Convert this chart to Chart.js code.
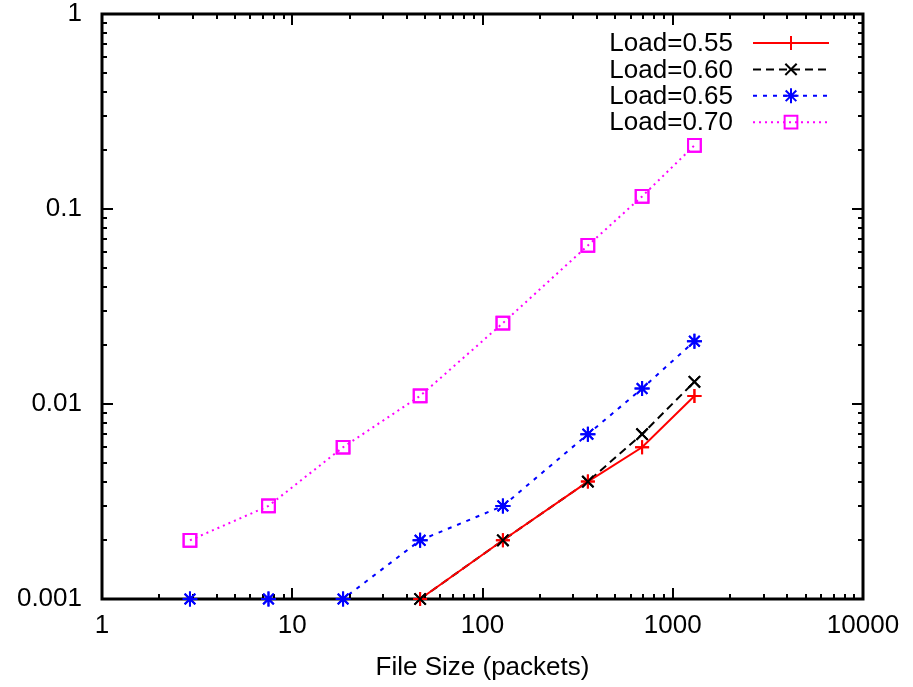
<!DOCTYPE html>
<html>
<head>
<meta charset="utf-8">
<script src="https://cdn.jsdelivr.net/npm/chart.js@4.4.1/dist/chart.umd.min.js"></script>
<style>
  html, body { margin: 0; padding: 0; background: #fff; }
  #wrap { width: 913px; height: 687px; }
</style>
</head>
<body>
<div id="wrap"><canvas id="lossChart" width="913" height="687"></canvas></div>
<script>
// values (log-log)
const fileSizes = [2.9, 7.5, 18.5, 47, 128, 358, 690, 1300];
const fileSizesHigh = [47, 128, 358, 690, 1300];

const load055 = [0.001, 0.002, 0.004, 0.006, 0.011];
const load060 = [0.001, 0.002, 0.004, 0.007, 0.013];
const load065 = [0.001, 0.001, 0.001, 0.002, 0.003, 0.007, 0.012, 0.021];
const load070 = [0.002, 0.003, 0.006, 0.011, 0.026, 0.065, 0.116, 0.212];

const seriesLabels = ['Load=0.55', 'Load=0.60', 'Load=0.65', 'Load=0.70'];
const xTickLabels = [1, 10, 100, 1000, 10000];
const yTickLabels = [0.001, 0.01, 0.1, 1];

const FONT = 'Liberation Sans, Arial, Helvetica, sans-serif';
const FONT_SIZE = 26;

function toPoints(xs, ys) {
    return ys.map((y, i) => ({ x: xs[i], y: y }));
}

// 1..9 per decade, used for the inward minor ticks
function decadeTicks(min, max) {
    const out = [];
    for (let e = Math.round(Math.log10(min)); e < Math.round(Math.log10(max)); e++) {
        for (let m = 1; m < 10; m++) out.push({ value: m * Math.pow(10, e) });
    }
    out.push({ value: max });
    return out;
}

function isPow10(v) {
    const l = Math.log10(v);
    return Math.abs(l - Math.round(l)) < 1e-9;
}

// keep the plot box where the layout padding puts it
function noScalePadding(s) {
    s.paddingTop = 0; s.paddingBottom = 0;
    s.paddingLeft = 0; s.paddingRight = 0;
}

// gnuplot style frame with ticks pointing inward on all four sides,
// drawn over the lines, then the markers go on top again
const framePlugin = {
    id: 'frame',
    afterDatasetsDraw(chart) {
        const { ctx, chartArea: a, scales } = chart;
        ctx.save();
        ctx.strokeStyle = '#000';
        ctx.lineWidth = 2;
        ctx.beginPath();
        scales.x.ticks.forEach(t => {
            const px = Math.round(scales.x.getPixelForValue(t.value));
            const len = isPow10(t.value) ? 11 : 5;
            ctx.moveTo(px, a.bottom); ctx.lineTo(px, a.bottom - len);
            ctx.moveTo(px, a.top); ctx.lineTo(px, a.top + len);
        });
        scales.y.ticks.forEach(t => {
            const py = Math.round(scales.y.getPixelForValue(t.value));
            const len = isPow10(t.value) ? 11 : 5;
            ctx.moveTo(a.left, py); ctx.lineTo(a.left + len, py);
            ctx.moveTo(a.right, py); ctx.lineTo(a.right - len, py);
        });
        ctx.stroke();
        ctx.lineWidth = 3;
        ctx.strokeRect(a.left, a.top, a.right - a.left, a.bottom - a.top);
        ctx.restore();

        chart.data.datasets.forEach((ds, i) => {
            chart.getDatasetMeta(i).data.forEach(p => p.draw(ctx, a));
        });
    }
};

// key in the top right corner: label, then line sample with marker
const keyPlugin = {
    id: 'key',
    afterDraw(chart) {
        const { ctx } = chart;
        const textRight = 733, x0 = 753, x1 = 829, top = 43, step = 26.4;
        ctx.save();
        ctx.font = FONT_SIZE + 'px ' + FONT;
        ctx.textAlign = 'right';
        ctx.textBaseline = 'middle';
        chart.data.datasets.forEach((ds, i) => {
            const y = top + i * step;
            ctx.fillStyle = '#000';
            ctx.fillText(ds.label, textRight, y + 1);
            ctx.strokeStyle = ds.borderColor;
            ctx.lineWidth = ds.borderWidth;
            ctx.setLineDash(ds.borderDash || []);
            ctx.beginPath();
            ctx.moveTo(x0, y); ctx.lineTo(x1, y);
            ctx.stroke();
            ctx.setLineDash([]);
            ctx.lineWidth = ds.pointBorderWidth;
            ctx.fillStyle = 'rgba(0,0,0,0)';
            Chart.helpers.drawPoint(ctx, {
                pointStyle: ds.pointStyle,
                radius: ds.pointRadius,
                rotation: 0,
                borderWidth: ds.pointBorderWidth
            }, (x0 + x1) / 2, y);
        });
        ctx.restore();
    }
};

function makeSet(label, data, color, dash, style, radius) {
    return {
        label: label,
        data: data,
        showLine: true,
        borderColor: color,
        backgroundColor: 'rgba(0,0,0,0)',
        borderWidth: 2,
        borderDash: dash,
        pointStyle: style,
        pointRadius: radius,
        pointBorderWidth: 2,
        pointBorderColor: color,
        pointBackgroundColor: 'rgba(0,0,0,0)',
        clip: false,
        tension: 0
    };
}

const ctx = document.getElementById('lossChart').getContext('2d');
new Chart(ctx, {
    type: 'scatter',
    data: {
        datasets: [
            makeSet(seriesLabels[0], toPoints(fileSizesHigh, load055), '#ff0000', [], 'cross', 7),
            makeSet(seriesLabels[1], toPoints(fileSizesHigh, load060), '#000000', [8, 5], 'crossRot', 8),
            makeSet(seriesLabels[2], toPoints(fileSizes, load065), '#0000ff', [4, 6], 'star', 7.5),
            makeSet(seriesLabels[3], toPoints(fileSizes, load070), '#ff00ff', [2, 4], 'rect', 9)
        ]
    },
    options: {
        responsive: false,
        animation: false,
        events: [],
        layout: { padding: { left: 0, top: 14, right: 50, bottom: 0 } },
        plugins: {
            legend: { display: false },
            tooltip: { enabled: false }
        },
        scales: {
            x: {
                type: 'logarithmic',
                min: xTickLabels[0],
                max: xTickLabels[xTickLabels.length - 1],
                afterBuildTicks: s => { s.ticks = decadeTicks(s.min, s.max); },
                afterFit: s => { s.height = 88; noScalePadding(s); },
                grid: { display: false, drawTicks: false },
                border: { display: false },
                ticks: {
                    autoSkip: false,
                    maxRotation: 0,
                    padding: 11,
                    color: '#000',
                    font: { family: FONT, size: FONT_SIZE },
                    callback: v => xTickLabels.includes(v) ? String(v) : ''
                },
                title: {
                    display: true,
                    text: 'File Size (packets)',
                    color: '#000',
                    font: { family: FONT, size: FONT_SIZE },
                    padding: { top: 0, bottom: 4 }
                }
            },
            y: {
                type: 'logarithmic',
                min: yTickLabels[0],
                max: yTickLabels[yTickLabels.length - 1],
                afterBuildTicks: s => { s.ticks = decadeTicks(s.min, s.max); },
                afterFit: s => { s.width = 102; noScalePadding(s); },
                grid: { display: false, drawTicks: false },
                border: { display: false },
                ticks: {
                    autoSkip: false,
                    padding: 20,
                    color: '#000',
                    font: { family: FONT, size: FONT_SIZE },
                    callback: v => yTickLabels.some(t => Math.abs(t - v) < t * 1e-6) ? String(v) : ''
                }
            }
        }
    },
    plugins: [framePlugin, keyPlugin]
});
</script>
</body>
</html>
